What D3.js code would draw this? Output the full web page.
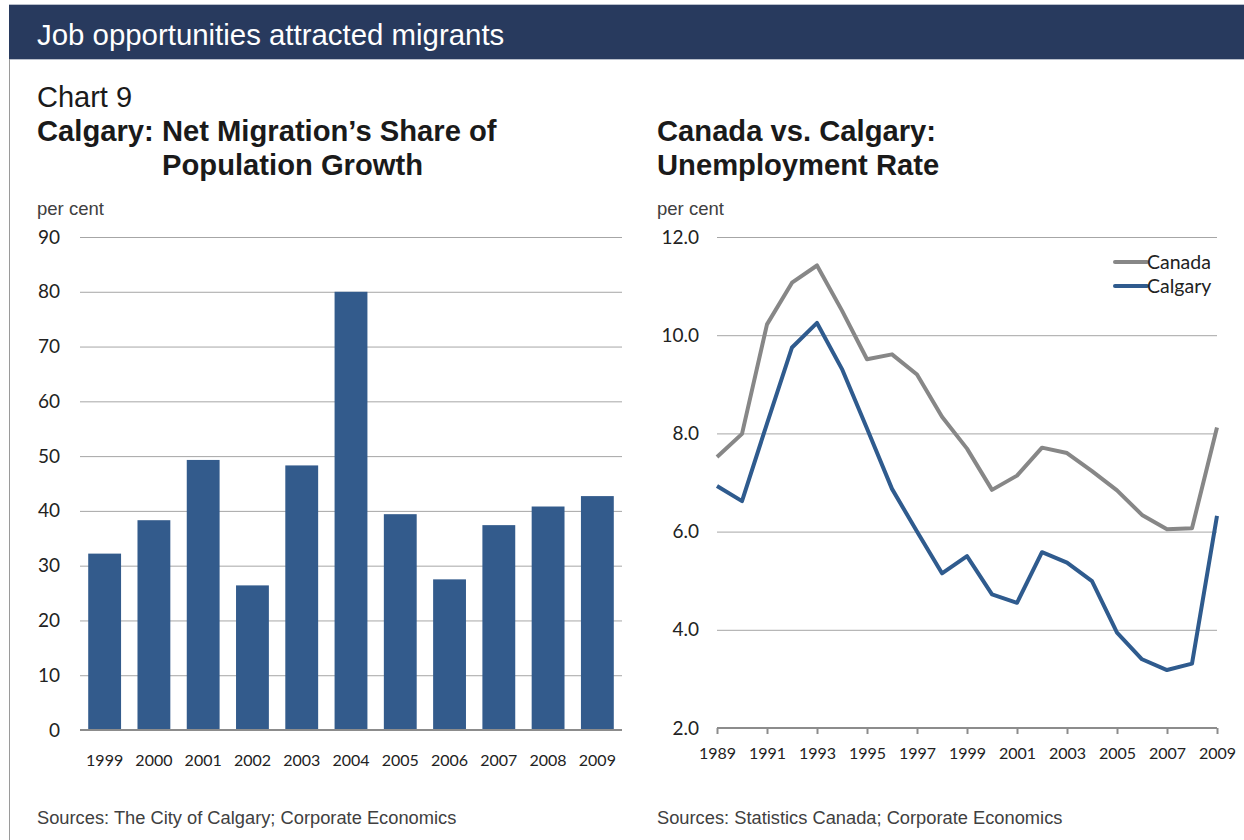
<!DOCTYPE html>
<html>
<head>
<meta charset="utf-8">
<script src="https://cdn.jsdelivr.net/npm/d3@7"></script>
<style>
  html, body { margin: 0; padding: 0; background: #ffffff; }
  svg { display: block; }
  .sans { font-family: "Liberation Sans", Arial, sans-serif; }
  .lab { font-family: Lato, "Noto Sans", sans-serif; fill: #222; }
</style>
</head>
<body>
<script>
// Net migration's share of Calgary population growth (per cent)
const barYears = ["1999", "2000", "2001", "2002", "2003", "2004", "2005", "2006", "2007", "2008", "2009"];
const migrationShare = [32.2, 38.3, 49.3, 26.4, 48.3, 80.0, 39.4, 27.5, 37.4, 40.8, 42.7];
const barTicks = [0, 10, 20, 30, 40, 50, 60, 70, 80, 90];

// Unemployment rate, Canada vs. Calgary (per cent)
const lineYears = [1989, 1990, 1991, 1992, 1993, 1994, 1995, 1996, 1997, 1998, 1999,
                   2000, 2001, 2002, 2003, 2004, 2005, 2006, 2007, 2008, 2009];
const canadaRate = [7.52, 7.99, 10.22, 11.07, 11.42, 10.5, 9.51, 9.61, 9.2, 8.34, 7.69,
                    6.85, 7.14, 7.71, 7.6, 7.23, 6.84, 6.34, 6.05, 6.07, 8.12];
const calgaryRate = [6.93, 6.62, 8.2, 9.75, 10.25, 9.31, 8.1, 6.87, 6.0, 5.15, 5.5,
                     4.72, 4.55, 5.58, 5.37, 4.99, 3.94, 3.4, 3.18, 3.31, 6.32];
const lineTicks = [2, 4, 6, 8, 10, 12];
const yearLabels = [1989, 1991, 1993, 1995, 1997, 1999, 2001, 2003, 2005, 2007, 2009];

const W = 1244, H = 840;
const navy = "#283a5e";
const barBlue = "#335b8c";
const calgaryBlue = "#2f5b8e";
const canadaGrey = "#878787";
const gridGrey = "#a6a6a6";
const axisGrey = "#8c8c8c";

const svg = d3.select("body").append("svg")
  .attr("width", W).attr("height", H);

// page frame and banner
svg.append("rect").attr("x", 9).attr("y", 4).attr("width", W - 9).attr("height", 55).attr("fill", navy);
svg.append("line").attr("x1", 9).attr("x2", W).attr("y1", 4.5).attr("y2", 4.5).attr("stroke", "#b9bfcb").attr("stroke-width", 1);
svg.append("line").attr("x1", 9).attr("x2", W).attr("y1", 59.5).attr("y2", 59.5).attr("stroke", "#b9bfcb").attr("stroke-width", 1);
svg.append("line").attr("x1", 9.5).attr("x2", 9.5).attr("y1", 59).attr("y2", H).attr("stroke", "#9a9a9a").attr("stroke-width", 1);

svg.append("text").attr("class", "sans").attr("x", 37).attr("y", 45)
  .attr("font-size", 29.4).attr("fill", "#ffffff").text("Job opportunities attracted migrants");

// titles
svg.append("text").attr("class", "sans").attr("x", 37).attr("y", 107)
  .attr("font-size", 29).attr("fill", "#1a1a1a").text("Chart 9");
const tL = svg.append("text").attr("class", "sans").attr("font-size", 29.2)
  .attr("font-weight", "bold").attr("fill", "#1a1a1a");
tL.append("tspan").attr("x", 37).attr("y", 141).text("Calgary: Net Migration\u2019s Share of");
tL.append("tspan").attr("x", 162).attr("y", 175).text("Population Growth");
const tR = svg.append("text").attr("class", "sans").attr("font-size", 29.2)
  .attr("font-weight", "bold").attr("fill", "#1a1a1a");
tR.append("tspan").attr("x", 657).attr("y", 141).text("Canada vs. Calgary:");
tR.append("tspan").attr("x", 657).attr("y", 175).text("Unemployment Rate");

svg.append("text").attr("class", "sans").attr("x", 37).attr("y", 215)
  .attr("font-size", 18.5).attr("fill", "#404040").text("per cent");
svg.append("text").attr("class", "sans").attr("x", 657).attr("y", 215)
  .attr("font-size", 18.5).attr("fill", "#404040").text("per cent");

// ---------- bar chart ----------
const bx0 = 80, bx1 = 622, by0 = 730, by1 = 237;
const xBand = d3.scaleBand().domain(barYears).range([bx0, bx1])
  .paddingInner(1 / 3).paddingOuter(1 / 6);
const yBar = d3.scaleLinear().domain([0, 90]).range([by0, by1]);

const gBar = svg.append("g");
gBar.selectAll("line.grid").data(barTicks.filter(d => d > 0)).join("line")
  .attr("class", "grid")
  .attr("x1", bx0).attr("x2", bx1)
  .attr("y1", d => yBar(d) + 0.5).attr("y2", d => yBar(d) + 0.5)
  .attr("stroke", gridGrey).attr("stroke-width", 1);

gBar.selectAll("rect.bar").data(migrationShare).join("rect")
  .attr("class", "bar")
  .attr("x", (d, i) => xBand(barYears[i]))
  .attr("width", xBand.bandwidth())
  .attr("y", d => yBar(d))
  .attr("height", d => yBar(0) - yBar(d))
  .attr("fill", barBlue);

gBar.append("line").attr("x1", bx0).attr("x2", bx1)
  .attr("y1", yBar(0)).attr("y2", yBar(0))
  .attr("stroke", axisGrey).attr("stroke-width", 2);

const yAxisL = d3.axisLeft(yBar).tickValues(barTicks).tickSize(0).tickPadding(0)
  .tickFormat(d3.format("d"));
gBar.append("g").attr("transform", "translate(60,0)").call(yAxisL)
  .call(g => g.select(".domain").remove())
  .selectAll("text").attr("class", "lab").attr("font-size", 19).attr("fill", "#222");

const xAxisL = d3.axisBottom(xBand).tickSize(0).tickPadding(0);
gBar.append("g").attr("transform", "translate(0,760)").call(xAxisL)
  .call(g => g.select(".domain").remove())
  .selectAll("text").attr("class", "lab").attr("font-size", 16).attr("dy", "0.35em").attr("fill", "#222");

// ---------- line chart ----------
const lx0 = 717, lx1 = 1217, ly0 = 728, ly1 = 237;
const xYear = d3.scaleLinear().domain([1989, 2009]).range([lx0, lx1]);
const yRate = d3.scaleLinear().domain([2, 12]).range([ly0, ly1]);

const gLine = svg.append("g");
gLine.selectAll("line.grid").data(lineTicks.filter(d => d > 2)).join("line")
  .attr("class", "grid")
  .attr("x1", lx0).attr("x2", lx1)
  .attr("y1", d => yRate(d) + 0.5).attr("y2", d => yRate(d) + 0.5)
  .attr("stroke", gridGrey).attr("stroke-width", 1);

const xAxisR = d3.axisBottom(xYear).tickValues(yearLabels).tickSize(6).tickPadding(14)
  .tickFormat(d3.format("d"));
gLine.append("g").attr("transform", `translate(0,${ly0})`).call(xAxisR)
  .call(g => g.select(".domain").attr("stroke", axisGrey).attr("stroke-width", 2).attr("d", `M${lx0},0H${lx1}`))
  .call(g => g.selectAll(".tick line").attr("stroke", axisGrey).attr("stroke-width", 2))
  .selectAll("text").attr("class", "lab").attr("font-size", 16).attr("fill", "#222");

const yAxisR = d3.axisLeft(yRate).tickValues(lineTicks).tickSize(0).tickPadding(0)
  .tickFormat(d3.format(".1f"));
gLine.append("g").attr("transform", "translate(699,0)").call(yAxisR)
  .call(g => g.select(".domain").remove())
  .selectAll("text").attr("class", "lab").attr("font-size", 19).attr("fill", "#222");

const lineGen = d3.line().x(d => xYear(d[0])).y(d => yRate(d[1]));
const series = [
  { name: "Canada", values: canadaRate, color: canadaGrey },
  { name: "Calgary", values: calgaryRate, color: calgaryBlue }
];
gLine.selectAll("path.series").data(series).join("path")
  .attr("class", "series")
  .attr("d", s => lineGen(lineYears.map((y, i) => [y, s.values[i]])))
  .attr("fill", "none")
  .attr("stroke", s => s.color)
  .attr("stroke-width", 4)
  .attr("stroke-linejoin", "round")
  .attr("stroke-linecap", "butt");

// legend
const leg = gLine.selectAll("g.leg").data(series).join("g")
  .attr("class", "leg")
  .attr("transform", (d, i) => `translate(1113,${262 + i * 24})`);
leg.append("line").attr("x1", 2).attr("x2", 34).attr("y1", 0).attr("y2", 0)
  .attr("stroke", d => d.color).attr("stroke-width", 4).attr("stroke-linecap", "round");
leg.append("text").attr("class", "lab").attr("x", 34).attr("y", 0).attr("dy", "0.35em")
  .attr("font-size", 19.5).attr("fill", "#222").text(d => d.name);

// sources
svg.append("text").attr("class", "sans").attr("x", 37).attr("y", 824)
  .attr("font-size", 18.3).attr("fill", "#404040").text("Sources: The City of Calgary; Corporate Economics");
svg.append("text").attr("class", "sans").attr("x", 657).attr("y", 824)
  .attr("font-size", 18.3).attr("fill", "#404040").text("Sources: Statistics Canada; Corporate Economics");
</script>
</body>
</html>
